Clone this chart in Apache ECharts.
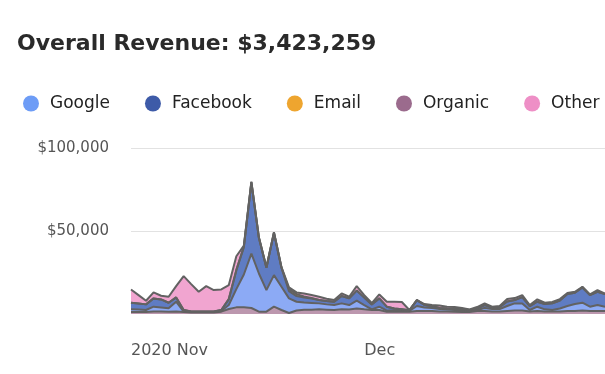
<!DOCTYPE html>
<html><head><meta charset="utf-8">
<script src="https://cdn.jsdelivr.net/npm/echarts@6/dist/echarts.min.js"></script>
<style>html,body{margin:0;padding:0;background:#fff}#c{width:605px;height:374px}</style>
</head><body><div id="c"></div>
<script>
// ---- data (US$) ----
const titleText = 'Overall Revenue: $3,423,259';
const legendOrder = ['Google', 'Facebook', 'Email', 'Organic', 'Other'];
const organic = [1200,1200,1200,1500,1500,1400,1500,1200,900,900,900,900,1400,3000,4000,4000,3600,1400,1400,4400,2400,600,2100,2500,2600,2800,2600,2400,2800,2700,3300,2800,2400,2400,1400,1400,1400,1400,1800,1800,1800,1500,1500,1400,1200,1200,1800,1800,1500,1500,1800,2100,2100,1500,1800,1500,1500,1500,1800,1800,2100,1800,1800,1800];
const google = [1600,1500,1200,2900,2400,2000,5900,200,300,300,300,300,400,2400,11000,19800,32800,23000,13000,19000,14000,8800,5300,4500,4100,3600,3200,3000,3600,2700,4800,2600,400,2000,600,800,1000,500,3000,2100,1800,1500,1200,1000,900,600,600,1800,1500,1500,3000,4300,4300,900,2600,1300,900,1800,3000,4200,4700,2600,3600,2600];
const facebook = [4000,3600,3400,5000,4900,3400,2600,1000,300,300,300,300,600,3600,11400,16500,42800,21500,13500,25500,11500,4400,3400,2900,2600,2000,2000,2000,4400,4000,6000,4500,2900,5000,2400,1100,400,300,3600,1500,1200,600,600,800,900,600,900,1800,900,1200,2700,2000,3800,2400,3000,3200,4000,4800,7200,6800,9200,7000,8000,7600];
const email = [0,0,0,0,0,0,0,0,0,0,0,0,0,0,0,300,300,0,0,0,0,1200,1200,600,300,0,0,0,0,0,0,0,0,0,0,0,0,0,0,0,0,0,0,0,0,0,0,0,0,0,0,0,0,0,0,0,0,0,0,0,0,0,0,0];
const other = [8000,5100,2200,3600,2200,3600,6800,20400,16500,11900,15300,12900,12400,8400,8400,600,300,300,300,300,300,1000,1000,1800,1800,2000,1400,1000,1600,1000,2700,1500,900,2400,3000,4100,4400,200,0,600,600,1500,1100,1000,600,300,900,1000,500,600,1500,1200,1200,600,1400,800,800,900,600,600,400,400,1000,300];
const yTicks = [0, 50000, 100000];
const xTickLabels = {'2020-10-31': '2020 Nov', '2020-12-01': 'Dec'};

const categories = [];
for (let i = 0; i < organic.length; i++) {
  categories.push(new Date(Date.UTC(2020, 9, 31 + i)).toISOString().slice(0, 10));
}

const colors = {Google:'#6d9cf6', Facebook:'#3e5ba8', Email:'#eea52f', Organic:'#9b6b8d', Other:'#ee8fc6'};
const fills = {Google:'#8caaf5', Facebook:'#5f7cc3', Email:'#f0bb5c', Organic:'#bc97ae', Other:'#f1a5d0'};
const stackOrder = [['Organic', organic], ['Google', google], ['Facebook', facebook], ['Email', email], ['Other', other]];

const chart = echarts.init(document.getElementById('c'), null, {renderer: 'canvas'});
chart.setOption({
  animation: false,
  textStyle: {fontFamily: 'DejaVu Sans'},
  title: {
    text: titleText, left: 17, top: 33, padding: 0,
    textStyle: {fontFamily: 'DejaVu Sans', fontWeight: 'bold', fontSize: 22, color: '#2a2a2a'}
  },
  legend: {
    data: legendOrder.map(n => ({name: n, itemStyle: {color: colors[n]}})),
    left: 23, top: 95, padding: 0, width: 700,
    icon: 'circle', itemWidth: 28, itemHeight: 16, itemGap: 35,
    itemStyle: {borderWidth: 0},
    textStyle: {fontFamily: 'DejaVu Sans', fontSize: 17, color: '#222'}
  },
  grid: {left: 131, right: -2, top: 148, bottom: 60, containLabel: false},
  xAxis: {
    type: 'category', data: categories, boundaryGap: false,
    axisLine: {show: false}, axisTick: {show: false}, splitLine: {show: false},
    axisLabel: {
      interval: (idx, val) => val in xTickLabels,
      formatter: v => xTickLabels[v] || '',
      align: 'left', margin: 29, fontSize: 16, color: '#555', fontFamily: 'DejaVu Sans'
    }
  },
  yAxis: {
    type: 'value', min: yTicks[0], max: yTicks[yTicks.length - 1], interval: yTicks[1] - yTicks[0],
    axisLine: {show: false}, axisTick: {show: false},
    axisLabel: {
      margin: 22, fontSize: 15, color: '#555', fontFamily: 'DejaVu Sans',
      formatter: v => v === 0 ? '' : '$' + v.toLocaleString('en-US')
    },
    splitLine: {lineStyle: {color: ['rgba(0,0,0,0)', '#e2e2e2', '#e2e2e2'], width: 1}}
  },
  series: stackOrder.map(([name, vals]) => ({
    name, type: 'line', stack: 'total', data: vals,
    symbol: 'none', showSymbol: false,
    itemStyle: {color: colors[name]},
    lineStyle: {color: '#626262', width: 2},
    areaStyle: {color: fills[name], opacity: 1}
  }))
});
</script></body></html>
